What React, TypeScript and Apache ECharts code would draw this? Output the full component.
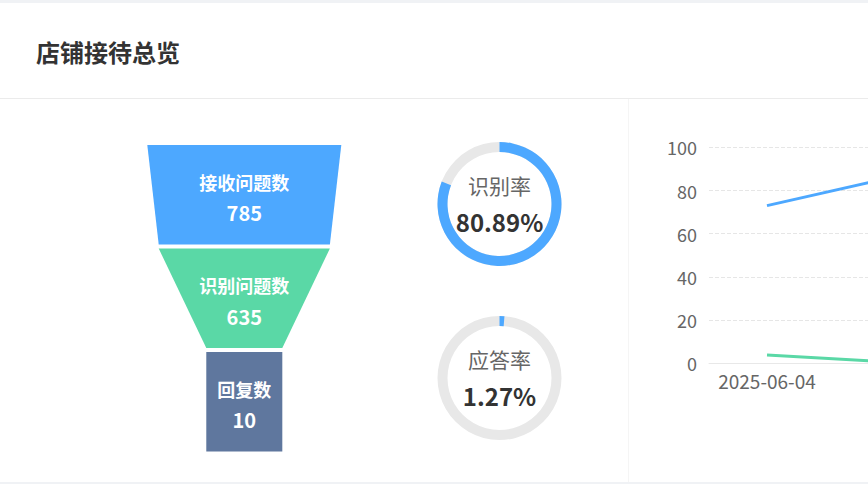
import React, { useEffect, useRef } from 'react';
import * as echarts from 'echarts';

const FONT = '"Noto Sans CJK SC", "Noto Sans", sans-serif';

// funnel: 接待 → 识别 → 回复
const funnelNames = ['接收问题数', '识别问题数', '回复数'];
const funnelValues = [785, 635, 10];
const funnelColors = ['#4DA8FF', '#5AD8A6', '#5F779E'];

// ring gauges
const rateNames = ['识别率', '应答率'];
const rateValues = [80.89, 1.27];

// daily trend (the second day runs just past the right edge)
const dates = ['2025-06-04', '2025-06-05'];
const recognitionDaily = [73, 85.2];
const responseDaily = [3.8, 0.8];

const App: React.FC = () => {
  const chartRef = useRef<HTMLDivElement>(null);

  useEffect(() => {
    if (!chartRef.current) return;
    const chart = echarts.init(chartRef.current, undefined, { renderer: 'svg' });

    const last = funnelValues.length - 1;
    const funnelData: any[] = funnelNames.map((name, i) => ({
      name,
      value: funnelValues[i],
      itemStyle: { color: funnelColors[i] },
    }));
    // invisible spacer so the last block keeps a flat bottom
    funnelData.push({
      name: '',
      value: funnelValues[last],
      itemStyle: { color: 'transparent' },
      label: { show: false },
      emphasis: { disabled: true },
    });

    const gaugeCenters = [204, 378];
    const gauges: any[] = rateNames.map((name, i) => ({
      type: 'gauge',
      center: [499.5, gaugeCenters[i]],
      radius: 62,
      startAngle: 90,
      endAngle: -270,
      min: 0,
      max: 100,
      pointer: { show: false },
      anchor: { show: false },
      progress: {
        show: true,
        width: 10,
        roundCap: false,
        itemStyle: { color: '#4DA8FF' },
      },
      axisLine: { lineStyle: { width: 10, color: [[1, '#E8E8E8']] } },
      splitLine: { show: false },
      axisTick: { show: false },
      axisLabel: { show: false },
      title: { offsetCenter: [0, -19], fontSize: 21, color: '#666', fontFamily: FONT },
      detail: {
        offsetCenter: [0, 17],
        fontSize: 24,
        fontWeight: 'bold',
        color: '#333',
        fontFamily: FONT,
        formatter: '{value}%',
      },
      data: [{ value: rateValues[i], name }],
    }));

    const option: any = {
      animation: false,
      backgroundColor: '#fff',
      textStyle: { fontFamily: FONT },
      graphic: [
        { type: 'rect', shape: { x: 0, y: 0, width: 868, height: 3 }, style: { fill: '#F0F2F5' }, silent: true },
        { type: 'rect', shape: { x: 0, y: 482, width: 868, height: 2 }, style: { fill: '#F0F2F5' }, silent: true },
        { type: 'line', shape: { x1: 0, y1: 98.5, x2: 868, y2: 98.5 }, style: { stroke: '#EBEBEB', lineWidth: 1 }, silent: true },
        { type: 'line', shape: { x1: 628.5, y1: 99, x2: 628.5, y2: 482 }, style: { stroke: '#F5F5F5', lineWidth: 1 }, silent: true },
        {
          type: 'text',
          x: 36,
          y: 51,
          style: {
            text: '店铺接待总览',
            fill: '#333',
            font: `bold 24px ${FONT}`,
            verticalAlign: 'middle',
          },
          silent: true,
        },
      ],
      grid: {
        left: 709,
        top: 147.3,
        height: 216,
        width: 232,
        containLabel: false,
        outerBoundsMode: 'none',
      },
      xAxis: {
        type: 'category',
        data: dates,
        boundaryGap: true,
        axisLine: { lineStyle: { color: '#E8E8E8' } },
        axisTick: { show: false },
        axisLabel: { color: '#666', fontSize: 19, margin: 8, interval: 1 },
      },
      yAxis: {
        type: 'value',
        min: 0,
        max: 100,
        interval: 20,
        axisLine: { show: false },
        axisTick: { show: false },
        axisLabel: { color: '#666', fontSize: 18, margin: 12 },
        splitLine: { lineStyle: { type: 'dashed', color: '#E6E6E6' } },
      },
      series: [
        {
          type: 'funnel',
          left: 144.3,
          width: 200,
          top: 145,
          height: 410,
          sort: 'none',
          gap: 4,
          min: 0,
          max: 785,
          minSize: 74.5,
          maxSize: 194,
          funnelAlign: 'center',
          label: {
            show: true,
            position: 'inside',
            formatter: '{n|{b}}\n{v|{c}}',
            padding: [5, 0, 0, 0],
            rich: {
              n: { fontSize: 18, fontWeight: 'bold', color: '#fff', lineHeight: 31, fontFamily: FONT },
              v: { fontSize: 20, fontWeight: 'bold', color: '#fff', lineHeight: 31, fontFamily: FONT },
            },
          },
          itemStyle: { borderWidth: 0 },
          data: funnelData,
        },
        ...gauges,
        {
          name: '识别率',
          type: 'line',
          data: recognitionDaily,
          showSymbol: false,
          lineStyle: { width: 3, color: '#4DA8FF' },
          itemStyle: { color: '#4DA8FF' },
        },
        {
          name: '应答率',
          type: 'line',
          data: responseDaily,
          showSymbol: false,
          lineStyle: { width: 3, color: '#5AD8A6' },
          itemStyle: { color: '#5AD8A6' },
        },
      ],
    };

    chart.setOption(option);
    return () => {
      chart.dispose();
    };
  }, []);

  return (
    <div
      ref={chartRef}
      style={{ position: 'absolute', left: 0, top: 0, width: 868, height: 484 }}
    />
  );
};

export default App;
